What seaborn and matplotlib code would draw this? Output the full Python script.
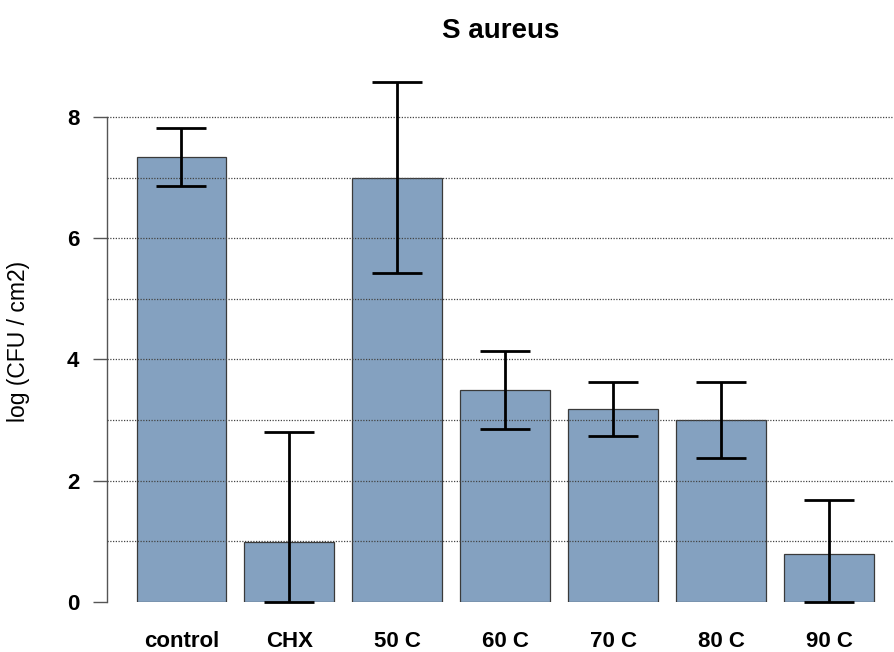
import numpy as np
import pandas as pd
import seaborn as sns
import matplotlib.pyplot as plt

# values
groups = ["control", "CHX", "50 C", "60 C", "70 C", "80 C", "90 C"]
mean_log = [7.34, 0.99, 7.00, 3.50, 3.18, 3.00, 0.79]
sd_log = [0.48, 1.82, 1.57, 0.64, 0.45, 0.63, 0.89]
grid_levels = [1, 2, 3, 4, 5, 6, 7, 8]
y_ticks = [0, 2, 4, 6, 8]

df = pd.DataFrame({"group": groups, "value": mean_log, "sd": sd_log})
lower = np.minimum(df["sd"], df["value"])  # bars cannot go below 0

sns.set_theme(style="white")
plt.rcParams["font.family"] = ["Liberation Sans", "DejaVu Sans"]
plt.rcParams["text.color"] = "black"
plt.rcParams["xtick.color"] = "black"
plt.rcParams["ytick.color"] = "black"
plt.rcParams["axes.labelcolor"] = "black"

fig = plt.figure(figsize=(8.95, 6.52), dpi=100)
ax = fig.add_axes([107 / 895, 50 / 652, 1 - 107 / 895, 542 / 652])

sns.barplot(
    data=df,
    x="group",
    y="value",
    order=groups,
    color="#84a1c0",
    saturation=1,
    width=0.833,
    edgecolor="#3a3a3a",
    linewidth=0.9,
    errorbar=None,
    ax=ax,
)
ax.errorbar(
    x=np.arange(len(groups)),
    y=df["value"],
    yerr=[lower, df["sd"]],
    fmt="none",
    ecolor="black",
    elinewidth=2,
    capsize=18,
    capthick=2,
    zorder=4,
    clip_on=False,
)

# dotted reference lines drawn over the bars
for lv in grid_levels:
    ax.axhline(lv, color="#444444", linestyle=(0, (1, 1.2)), linewidth=0.9, zorder=3)

ax.set_xlim(-0.69, len(groups) - 1 + 0.61)
ax.set_ylim(0, 8.94)
ax.set_yticks(y_ticks)
ax.set_yticklabels([str(t) for t in y_ticks], fontsize=16, fontweight="bold")
ax.set_xticks(np.arange(len(groups)))
ax.set_xticklabels(groups, fontsize=16, fontweight="bold")
ax.tick_params(axis="x", length=0, pad=21)
ax.tick_params(axis="y", length=10, width=1, color="#555555", labelcolor="black",
               pad=10, left=True)

for side in ["top", "right", "bottom"]:
    ax.spines[side].set_visible(False)
ax.spines["left"].set_bounds(0, 8)
ax.spines["left"].set_color("#555555")
ax.spines["left"].set_linewidth(1)

ax.set_xlabel("")
ax.set_ylabel("log (CFU / cm2)", fontsize=16.5, color="black")
ax.yaxis.set_label_coords(-0.098, 0.48)
ax.set_title("S aureus", fontsize=20, fontweight="bold", pad=16, color="black")

fig.savefig("out.png", dpi=100)
plt.close(fig)
